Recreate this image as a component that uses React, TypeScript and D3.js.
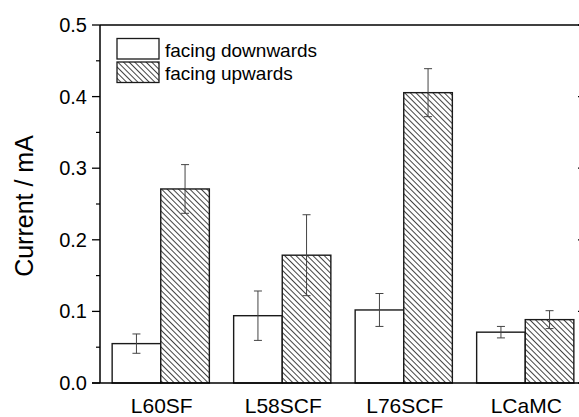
import React from "react";
import * as d3 from "d3";

const categories = ["L60SF", "L58SCF", "L76SCF", "LCaMC"];
const seriesNames = ["facing downwards", "facing upwards"];
const downValues = [0.055, 0.094, 0.102, 0.071];
const downErrors = [0.0135, 0.0345, 0.023, 0.008];
const upValues = [0.271, 0.1785, 0.4055, 0.0885];
const upErrors = [0.034, 0.0565, 0.0335, 0.0125];
const yLabel = "Current / mA";

const width = 579;
const height = 417;
const margin = { top: 25, right: -7, bottom: 34, left: 100 };
const font = "'Liberation Sans', Arial, sans-serif";

export default function App() {
  const x0 = d3
    .scaleBand()
    .domain(categories)
    .range([margin.left, width - margin.right])
    .paddingInner(0.2)
    .paddingOuter(0.1);

  const x1 = d3
    .scaleBand()
    .domain(seriesNames)
    .range([0, x0.bandwidth()]);

  const y = d3
    .scaleLinear()
    .domain([0, 0.5])
    .range([height - margin.bottom, margin.top]);

  const majorTicks = y.ticks(5);
  const minorTicks = y.ticks(10).filter((t) => !majorTicks.some((m) => Math.abs(m - t) < 1e-9));

  const series = [
    { name: seriesNames[0], values: downValues, errors: downErrors, fill: "#fff" },
    { name: seriesNames[1], values: upValues, errors: upErrors, fill: "url(#hatch)" },
  ];

  const left = margin.left;
  const right = width - margin.right;
  const bottom = height - margin.bottom;

  return (
    <svg
      width={width}
      height={height}
      style={{ position: "absolute", left: 0, top: 0, display: "block", background: "#fff" }}
      fontFamily={font}
    >
      <defs>
        <pattern
          id="hatch"
          patternUnits="userSpaceOnUse"
          width={4}
          height={4}
          patternTransform="rotate(-45)"
        >
          <rect width={4} height={4} fill="#fff" />
          <line x1={0.5} y1={0} x2={0.5} y2={4} stroke="#444" strokeWidth={1} />
        </pattern>
      </defs>

      {/* bars */}
      {series.map((s) =>
        categories.map((c, i) => (
          <rect
            key={s.name + c}
            x={x0(c)! + x1(s.name)!}
            y={y(s.values[i])}
            width={x1.bandwidth()}
            height={y(0) - y(s.values[i])}
            fill={s.fill}
            stroke="#1a1a1a"
            strokeWidth={1.4}
          />
        ))
      )}

      {/* error bars */}
      {series.map((s) =>
        categories.map((c, i) => {
          const cx = x0(c)! + x1(s.name)! + x1.bandwidth() / 2;
          const hi = y(s.values[i] + s.errors[i]);
          const lo = y(s.values[i] - s.errors[i]);
          return (
            <g key={"e" + s.name + c} stroke="#444" strokeWidth={1}>
              <line x1={cx} x2={cx} y1={hi} y2={lo} />
              <line x1={cx - 4} x2={cx + 4} y1={hi} y2={hi} />
              <line x1={cx - 4} x2={cx + 4} y1={lo} y2={lo} />
            </g>
          );
        })
      )}

      {/* frame */}
      <g stroke="#000" strokeWidth={1.5} fill="none">
        <line x1={left} x2={left} y1={margin.top} y2={bottom} />
        <line x1={left - 8} x2={right} y1={bottom} y2={bottom} />
        <line x1={left} x2={right} y1={margin.top} y2={margin.top} />
        <line x1={right} x2={right} y1={margin.top} y2={bottom} />
      </g>

      {/* axis ticks */}
      {majorTicks.map((t) => (
        <g key={"t" + t}>
          <line x1={left - 8} x2={left} y1={y(t)} y2={y(t)} stroke="#000" strokeWidth={1.3} />
          <line x1={right - 8} x2={right} y1={y(t)} y2={y(t)} stroke="#000" strokeWidth={1.3} />
          <text
            x={left - 13}
            y={y(t)}
            textAnchor="end"
            dominantBaseline="central"
            fontSize={20}
            fill="#000"
          >
            {d3.format(".1f")(t)}
          </text>
        </g>
      ))}
      {minorTicks.map((t) => (
        <line key={"m" + t} x1={left - 4} x2={left} y1={y(t)} y2={y(t)} stroke="#000" strokeWidth={1.2} />
      ))}

      {/* x labels */}
      {categories.map((c) => (
        <text
          key={"x" + c}
          x={x0(c)! + x0.bandwidth() / 2 + 1}
          y={413}
          textAnchor="middle"
          fontSize={21}
          fill="#000"
        >
          {c}
        </text>
      ))}

      {/* y label */}
      <text
        transform={`translate(33,${(margin.top + bottom) / 2 + 2}) rotate(-90)`}
        textAnchor="middle"
        fontSize={25}
        fill="#000"
      >
        {yLabel}
      </text>

      {/* legend */}
      {series.map((s, i) => (
        <g key={"l" + s.name} transform={`translate(117,${38.5 + i * 23.5})`}>
          <rect width={42} height={20.5} fill={s.fill} stroke="#1a1a1a" strokeWidth={1.3} />
          <text x={48} y={18} fontSize={19} fill="#000">
            {s.name}
          </text>
        </g>
      ))}
    </svg>
  );
}
